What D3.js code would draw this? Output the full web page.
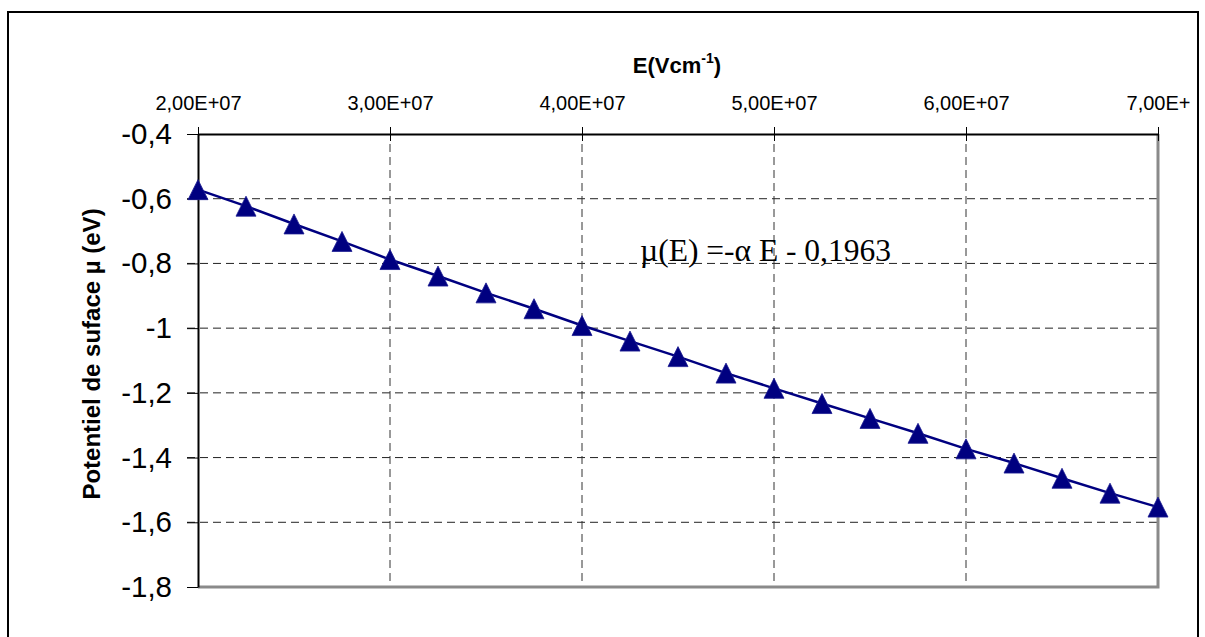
<!DOCTYPE html>
<html>
<head>
<meta charset="utf-8">
<script src="https://cdn.jsdelivr.net/npm/d3@7"></script>
<style>
  html, body { margin: 0; padding: 0; background: #fff; }
  svg { display: block; }
</style>
</head>
<body>
<svg id="chart" width="1205" height="637"></svg>
<script>
// Surface potential versus applied field
const fieldValues = [2.0e7, 2.25e7, 2.5e7, 2.75e7, 3.0e7, 3.25e7, 3.5e7, 3.75e7, 4.0e7, 4.25e7,
                     4.5e7, 4.75e7, 5.0e7, 5.25e7, 5.5e7, 5.75e7, 6.0e7, 6.25e7, 6.5e7, 6.75e7, 7.0e7];
const potentialValues = [-0.572, -0.623, -0.678, -0.732, -0.788, -0.839, -0.891, -0.940, -0.992, -1.040,
                         -1.088, -1.139, -1.186, -1.233, -1.279, -1.325, -1.373, -1.417, -1.464, -1.510, -1.553];
const xTickValues = [2e7, 3e7, 4e7, 5e7, 6e7, 7e7];
const xTickLabels = ["2,00E+07", "3,00E+07", "4,00E+07", "5,00E+07", "6,00E+07", "7,00E+"];
const yTickValues = [-0.4, -0.6, -0.8, -1.0, -1.2, -1.4, -1.6, -1.8];
const xTitle = "E(Vcm";
const xTitleSup = "-1";
const yTitle = "Potentiel de suface µ (eV)";
const equationText = "µ(E) =-α E - 0,1963";

const svg = d3.select("#chart");
const plot = { left: 198, right: 1158, top: 134, bottom: 587 };

const x = d3.scaleLinear().domain([2e7, 7e7]).range([plot.left, plot.right]);
const y = d3.scaleLinear().domain([-0.4, -1.8]).range([plot.top, plot.bottom]);

const frLocale = d3.formatLocale({ decimal: ",", thousands: " ", grouping: [3], currency: ["", ""], minus: "-" });
const yFmt = frLocale.format(".1~f");

// Outer frame
svg.append("rect")
  .attr("x", 8).attr("y", 12).attr("width", 1190).attr("height", 640)
  .attr("fill", "none").attr("stroke", "#000").attr("stroke-width", 2);

// Grid lines
const grid = svg.append("g");
grid.selectAll("line.h").data(yTickValues.filter(v => v !== -0.4 && v !== -1.8)).join("line")
  .attr("x1", plot.left - 11).attr("x2", plot.right)
  .attr("y1", d => y(d)).attr("y2", d => y(d))
  .attr("stroke", "#222").attr("stroke-width", 1).attr("stroke-dasharray", "8,5");
grid.selectAll("line.v").data(xTickValues.filter(v => v !== 2e7 && v !== 7e7)).join("line")
  .attr("x1", d => x(d)).attr("x2", d => x(d))
  .attr("y1", plot.top + 10).attr("y2", plot.bottom)
  .attr("stroke", "#333").attr("stroke-width", 1).attr("stroke-dasharray", "8,5");

// Right and bottom plot border
svg.append("path")
  .attr("d", `M${plot.right},${plot.top}V${plot.bottom}H${plot.left}`)
  .attr("fill", "none").attr("stroke", "#8a8a8a").attr("stroke-width", 3);

// Left axis
const yAxis = svg.append("g")
  .attr("transform", `translate(${plot.left},0)`)
  .call(d3.axisLeft(y).tickValues(yTickValues).tickFormat(yFmt).tickSize(11).tickSizeOuter(0).tickPadding(15));
yAxis.select(".domain").attr("stroke", "#000").attr("stroke-width", 2);
yAxis.selectAll(".tick line").attr("stroke", "#000").attr("stroke-width", 1);
yAxis.selectAll(".tick text")
  .attr("font-family", "Arial, 'Liberation Sans', sans-serif")
  .attr("font-size", 29.5).attr("fill", "#000");

// Top axis
const xAxis = svg.append("g")
  .attr("transform", `translate(0,${plot.top})`)
  .call(d3.axisTop(x).tickValues(xTickValues).tickFormat((d, i) => xTickLabels[i])
        .tickSize(7).tickSizeOuter(0).tickPadding(17));
xAxis.select(".domain").attr("stroke", "#000").attr("stroke-width", 2);
xAxis.selectAll(".tick line").attr("y1", 7).attr("stroke", "#000").attr("stroke-width", 1);
xAxis.selectAll(".tick text")
  .attr("font-family", "Arial, 'Liberation Sans', sans-serif")
  .attr("font-size", 20).attr("fill", "#000");

// Series line
const line = d3.line().x((d, i) => x(fieldValues[i])).y(d => y(d));
svg.append("path")
  .datum(potentialValues)
  .attr("d", line)
  .attr("fill", "none").attr("stroke", "#000080").attr("stroke-width", 2.5);

// Triangle markers
const boxTriangle = {
  draw(ctx, size) {
    const w = Math.sqrt(size);
    ctx.moveTo(0, -w / 2);
    ctx.lineTo(w / 2, w / 2);
    ctx.lineTo(-w / 2, w / 2);
    ctx.closePath();
  }
};
svg.append("g").selectAll("path").data(potentialValues).join("path")
  .attr("transform", (d, i) => `translate(${x(fieldValues[i])},${y(d)})`)
  .attr("d", d3.symbol().type(boxTriangle).size(20 * 20))
  .attr("fill", "#000080").attr("stroke", "#1a1a90").attr("stroke-width", 0.8);

// Axis titles
const xt = svg.append("text")
  .attr("x", 677).attr("y", 73)
  .attr("text-anchor", "middle")
  .attr("font-family", "Arial, 'Liberation Sans', sans-serif")
  .attr("font-weight", "bold").attr("font-size", 22).attr("fill", "#000");
xt.append("tspan").text(xTitle);
xt.append("tspan").attr("dy", -10).attr("font-size", 14).text(xTitleSup);
xt.append("tspan").attr("dy", 10).text(")");

svg.append("text")
  .attr("transform", `translate(100,354) rotate(-90)`)
  .attr("text-anchor", "middle")
  .attr("font-family", "Arial, 'Liberation Sans', sans-serif")
  .attr("font-weight", "bold").attr("font-size", 24).attr("fill", "#000")
  .text(yTitle);

// Fitted relation
svg.append("text")
  .attr("x", 640).attr("y", 261)
  .attr("font-family", "'Times New Roman', 'Liberation Serif', serif")
  .attr("font-size", 31.5).attr("fill", "#000")
  .text(equationText);
</script>
</body>
</html>
